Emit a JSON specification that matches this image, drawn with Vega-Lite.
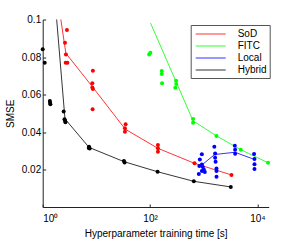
{
  "$schema": "https://vega.github.io/schema/vega-lite/v6.json",
  "width": 226,
  "height": 187.5,
  "autosize": {"type": "none"},
  "padding": {"left": 42.7, "top": 19.5, "right": 31.3, "bottom": 34},
  "config": {
    "view": {"stroke": null},
    "font": "Liberation Sans",
    "axis": {
      "domainColor": "#222",
      "domainWidth": 1,
      "tickColor": "#222",
      "tickSize": -3,
      "grid": false,
      "labelColor": "#000",
      "labelFont": "Liberation Sans",
      "labelFontSize": 10,
      "titleFont": "Liberation Sans",
      "titleFontSize": 10,
      "titleFontWeight": "normal",
      "titleColor": "#000"
    }
  },
  "datasets": {
    "means": [
      {"method": "Hybrid", "t": 1.3, "smse": 0.15},
      {"method": "Hybrid", "t": 2.6, "smse": 0.047},
      {"method": "Hybrid", "t": 7.3, "smse": 0.0318},
      {"method": "Hybrid", "t": 32.6, "smse": 0.0242},
      {"method": "Hybrid", "t": 138, "smse": 0.0188},
      {"method": "Hybrid", "t": 653, "smse": 0.0137},
      {"method": "Hybrid", "t": 3186, "smse": 0.0107},
      {"method": "SoD", "t": 1.8, "smse": 0.116},
      {"method": "SoD", "t": 2.7, "smse": 0.082},
      {"method": "SoD", "t": 8.5, "smse": 0.064},
      {"method": "SoD", "t": 34.5, "smse": 0.0415},
      {"method": "SoD", "t": 140, "smse": 0.0313},
      {"method": "SoD", "t": 673, "smse": 0.0233},
      {"method": "SoD", "t": 3280, "smse": 0.0171},
      {"method": "FITC", "t": 102, "smse": 0.0981},
      {"method": "FITC", "t": 632, "smse": 0.046},
      {"method": "FITC", "t": 1727, "smse": 0.0379},
      {"method": "FITC", "t": 4890, "smse": 0.0306},
      {"method": "FITC", "t": 15750, "smse": 0.0236},
      {"method": "Local", "t": 900, "smse": 0.0222},
      {"method": "Local", "t": 1600, "smse": 0.028},
      {"method": "Local", "t": 3800, "smse": 0.0292},
      {"method": "Local", "t": 8530, "smse": 0.0255}
    ],
    "pts": [
      {"method": "Hybrid", "t": 1.0, "smse": 0.0841},
      {"method": "Hybrid", "t": 1.09, "smse": 0.077},
      {"method": "Hybrid", "t": 1.37, "smse": 0.0556},
      {"method": "Hybrid", "t": 1.39, "smse": 0.0548},
      {"method": "Hybrid", "t": 1.36, "smse": 0.0565},
      {"method": "Hybrid", "t": 2.46, "smse": 0.051},
      {"method": "Hybrid", "t": 2.6, "smse": 0.0462},
      {"method": "Hybrid", "t": 2.65, "smse": 0.0452},
      {"method": "Hybrid", "t": 2.55, "smse": 0.0468},
      {"method": "Hybrid", "t": 7.3, "smse": 0.0322},
      {"method": "Hybrid", "t": 7.2, "smse": 0.0315},
      {"method": "Hybrid", "t": 7.5, "smse": 0.0312},
      {"method": "Hybrid", "t": 32.6, "smse": 0.0245},
      {"method": "Hybrid", "t": 33.5, "smse": 0.0238},
      {"method": "Hybrid", "t": 138, "smse": 0.0188},
      {"method": "Hybrid", "t": 653, "smse": 0.0137},
      {"method": "Hybrid", "t": 3186, "smse": 0.0107},
      {"method": "SoD", "t": 2.83, "smse": 0.0944},
      {"method": "SoD", "t": 2.6, "smse": 0.0876},
      {"method": "SoD", "t": 2.71, "smse": 0.0814},
      {"method": "SoD", "t": 2.68, "smse": 0.077},
      {"method": "SoD", "t": 2.88, "smse": 0.077},
      {"method": "SoD", "t": 8.6, "smse": 0.0727},
      {"method": "SoD", "t": 8.4, "smse": 0.066},
      {"method": "SoD", "t": 8.4, "smse": 0.0638},
      {"method": "SoD", "t": 8.6, "smse": 0.063},
      {"method": "SoD", "t": 8.5, "smse": 0.0521},
      {"method": "SoD", "t": 35, "smse": 0.0441},
      {"method": "SoD", "t": 34, "smse": 0.042},
      {"method": "SoD", "t": 34, "smse": 0.0402},
      {"method": "SoD", "t": 140, "smse": 0.0331},
      {"method": "SoD", "t": 140, "smse": 0.0313},
      {"method": "SoD", "t": 140, "smse": 0.0295},
      {"method": "SoD", "t": 673, "smse": 0.0233},
      {"method": "SoD", "t": 3280, "smse": 0.0171},
      {"method": "FITC", "t": 96, "smse": 0.0814},
      {"method": "FITC", "t": 101, "smse": 0.0823},
      {"method": "FITC", "t": 165, "smse": 0.0725},
      {"method": "FITC", "t": 165, "smse": 0.0709},
      {"method": "FITC", "t": 167, "smse": 0.066},
      {"method": "FITC", "t": 305, "smse": 0.0674},
      {"method": "FITC", "t": 308, "smse": 0.0656},
      {"method": "FITC", "t": 295, "smse": 0.0636},
      {"method": "FITC", "t": 632, "smse": 0.0469},
      {"method": "FITC", "t": 632, "smse": 0.045},
      {"method": "FITC", "t": 1727, "smse": 0.0379},
      {"method": "FITC", "t": 4890, "smse": 0.0306},
      {"method": "FITC", "t": 15750, "smse": 0.0236},
      {"method": "Local", "t": 921, "smse": 0.0281},
      {"method": "Local", "t": 845, "smse": 0.0253},
      {"method": "Local", "t": 827, "smse": 0.0219},
      {"method": "Local", "t": 921, "smse": 0.0227},
      {"method": "Local", "t": 960, "smse": 0.0213},
      {"method": "Local", "t": 1002, "smse": 0.02},
      {"method": "Local", "t": 1047, "smse": 0.0187},
      {"method": "Local", "t": 921, "smse": 0.0192},
      {"method": "Local", "t": 809, "smse": 0.0176},
      {"method": "Local", "t": 1572, "smse": 0.0322},
      {"method": "Local", "t": 1626, "smse": 0.0286},
      {"method": "Local", "t": 1626, "smse": 0.0263},
      {"method": "Local", "t": 1660, "smse": 0.0242},
      {"method": "Local", "t": 1727, "smse": 0.0206},
      {"method": "Local", "t": 1727, "smse": 0.0192},
      {"method": "Local", "t": 1727, "smse": 0.0162},
      {"method": "Local", "t": 3784, "smse": 0.0327},
      {"method": "Local", "t": 3840, "smse": 0.0305},
      {"method": "Local", "t": 3840, "smse": 0.0284},
      {"method": "Local", "t": 8650, "smse": 0.0283},
      {"method": "Local", "t": 8800, "smse": 0.0256},
      {"method": "Local", "t": 8800, "smse": 0.0228},
      {"method": "Local", "t": 8800, "smse": 0.0203}
    ]
  },
  "layer": [
    {
      "data": {"name": "means"},
      "mark": {"type": "line", "clip": true, "strokeWidth": 0.8},
      "encoding": {
        "x": {
          "field": "t", "type": "quantitative",
          "scale": {"type": "log", "domain": [1, 16200], "nice": false},
          "axis": {
            "values": [1, 100, 10000],
            "labelExpr": "datum.value == 1 ? '10⁰' : datum.value == 100 ? '10²' : '10⁴'",
            "labelPadding": 9,
            "title": "Hyperparameter training time [s]",
            "titlePadding": 5
          }
        },
        "y": {
          "field": "smse", "type": "quantitative",
          "scale": {"domain": [0, 0.1], "nice": false, "zero": false},
          "axis": {
            "values": [0.02, 0.04, 0.06, 0.08, 0.1],
            "format": ".2~f",
            "labelPadding": 5,
            "title": "SMSE",
            "titlePadding": 6
          }
        },
        "color": {
          "field": "method", "type": "nominal",
          "scale": {"domain": ["SoD", "FITC", "Local", "Hybrid"], "range": ["#ff0000", "#00ff00", "#0000ff", "#000000"]},
          "legend": {
            "title": null,
            "orient": "none",
            "legendX": 148,
            "legendY": 5.5,
            "fillColor": "white",
            "strokeColor": "#555",
            "padding": 3,
            "symbolType": "M-3,0H3",
            "symbolSize": 100,
            "symbolOffset": 11,
            "symbolStrokeWidth": 2,
            "symbolOpacity": 0.4,
            "labelOffset": 21,
            "labelFontSize": 10,
            "labelFont": "Liberation Sans",
            "labelColor": "#000",
            "labelLimit": 31,
            "rowPadding": 1
          }
        }
      }
    },
    {
      "data": {"name": "pts"},
      "mark": {"type": "circle", "size": 16, "opacity": 1},
      "encoding": {
        "x": {"field": "t", "type": "quantitative"},
        "y": {"field": "smse", "type": "quantitative"},
        "color": {"field": "method", "type": "nominal", "legend": null}
      }
    }
  ]
}
